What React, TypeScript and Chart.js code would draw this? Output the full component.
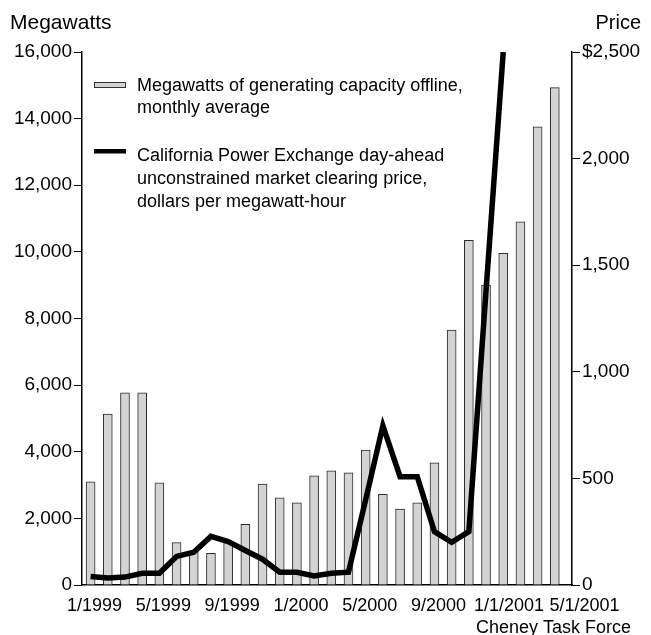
import React, { useEffect, useRef } from "react";
import { Chart, registerables } from "chart.js";

Chart.register(...registerables);

// Monthly data, 1/1999 .. 4/2001
const months = [
  "1/1999", "2/1999", "3/1999", "4/1999", "5/1999", "6/1999", "7/1999", "8/1999", "9/1999", "10/1999", "11/1999", "12/1999",
  "1/2000", "2/2000", "3/2000", "4/2000", "5/2000", "6/2000", "7/2000", "8/2000", "9/2000", "10/2000", "11/2000", "12/2000",
  "1/2001", "2/2001", "3/2001", "4/2001",
];
const megawattsOffline = [
  3100, 5130, 5770, 5770, 3070, 1270, 1000, 950, 1300, 1820, 3030, 2620,
  2470, 3280, 3430, 3370, 4050, 2720, 2280, 2470, 3670, 7650, 10350, 9000,
  9960, 10900, 13750, 14930,
];
const priceSeries = [
  40, 33, 37, 55, 55, 134, 154, 228, 204, 162, 121, 60,
  60, 42, 55, 60, 400, 747, 508, 508, 250, 200, 250, 1380,
  2500,
];
const xTickLabels = ["1/1999", "5/1999", "9/1999", "1/2000", "5/2000", "9/2000", "1/1/2001", "5/1/2001"];
const legendBarText = ["Megawatts of generating capacity offline,", "monthly average"];
const legendLineText = [
  "California Power Exchange day-ahead",
  "unconstrained market clearing price,",
  "dollars per megawatt-hour",
];
const leftTitle = "Megawatts";
const rightTitle = "Price";
const sourceText = "Cheney Task Force";

const FONT = "'Liberation Sans', Arial, Helvetica, sans-serif";
const W = 651;
const H = 635;
const AREA_LEFT = 82;
const AREA_RIGHT = 572;
const AREA_TOP = 52;
const AREA_BOTTOM = 585;

const overlayPlugin = {
  id: "overlay",
  afterDraw(chart: any) {
    const ctx = chart.ctx as CanvasRenderingContext2D;
    ctx.save();
    ctx.fillStyle = "#000";
    ctx.textBaseline = "alphabetic";
    // axis titles
    ctx.font = `21px ${FONT}`;
    ctx.textAlign = "left";
    ctx.fillText(leftTitle, 10, 29);
    ctx.font = `20px ${FONT}`;
    ctx.textAlign = "right";
    ctx.fillText(rightTitle, 641, 29);
    // source
    ctx.font = `18px ${FONT}`;
    ctx.textAlign = "right";
    ctx.fillText(sourceText, 631, 633);

    // legend
    ctx.fillStyle = "#d3d3d3";
    ctx.fillRect(94.5, 82.5, 31, 5);
    ctx.strokeStyle = "#333";
    ctx.lineWidth = 1;
    ctx.strokeRect(94.5, 82.5, 31, 5);
    ctx.fillStyle = "#000";
    ctx.fillRect(94, 149, 32, 4.5);

    ctx.font = `18px ${FONT}`;
    ctx.textAlign = "left";
    ctx.fillStyle = "#000";
    legendBarText.forEach((t, i) => ctx.fillText(t, 137, 91 + i * 22));
    legendLineText.forEach((t, i) => ctx.fillText(t, 137, 161 + i * 23));
    ctx.restore();
  },
};

export default function App() {
  const ref = useRef<HTMLCanvasElement | null>(null);

  useEffect(() => {
    const canvas = ref.current;
    if (!canvas) return;
    const chart = new Chart(canvas, {
      type: "bar",
      data: {
        datasets: [
          {
            type: "line",
            label: "price",
            data: priceSeries.map((v, i) => ({ x: i, y: v })),
            xAxisID: "x",
            yAxisID: "y1",
            borderColor: "#000",
            borderWidth: 5.5,
            pointRadius: 0,
            tension: 0,
            borderJoinStyle: "miter",
            borderCapStyle: "butt",
            order: 0,
          } as any,
          {
            type: "bar",
            label: "megawatts",
            data: megawattsOffline.map((v, i) => ({ x: i, y: v })),
            xAxisID: "x",
            yAxisID: "y",
            backgroundColor: "#d3d3d3",
            borderColor: "#2a2a2a",
            borderWidth: 1,
            barThickness: 9,
            order: 1,
          } as any,
        ],
      },
      options: {
        responsive: false,
        animation: false,
        devicePixelRatio: 1,
        layout: { padding: { top: AREA_TOP, left: 0, right: 0, bottom: 0 } },
        plugins: { legend: { display: false }, tooltip: { enabled: false } },
        scales: {
          x: {
            type: "linear",
            min: -0.5,
            max: 28,
            offset: false,
            grid: { display: false, drawTicks: false },
            border: { display: true, color: "#000", width: 1.5 },
            afterBuildTicks: (scale: any) => {
              // label anchors every 4 months; the last two labels sit a little right
              const nudge = [0, 0, 0, 0, 0, 0, 0.1, 0.5];
              scale.ticks = xTickLabels.map((_, i) => ({ value: i * 4 + nudge[i] }));
            },
            afterFit: (scale: any) => {
              scale.height = H - AREA_BOTTOM;
            },
            ticks: {
              autoSkip: false,
              maxRotation: 0,
              minRotation: 0,
              padding: 10,
              labelOffset: 4,
              color: "#000",
              font: { family: FONT, size: 18 },
              callback: (v: any) => xTickLabels[Math.round(Number(v) / 4)] ?? "",
            },
          },
          y: {
            type: "linear",
            position: "left",
            min: 0,
            max: 16000,
            grid: { drawOnChartArea: false, drawTicks: true, tickLength: 8, color: "#000", tickWidth: 1 },
            border: { display: true, color: "#000", width: 1.5 },
            afterFit: (scale: any) => {
              scale.width = AREA_LEFT;
            },
            ticks: {
              stepSize: 2000,
              padding: 2,
              color: "#000",
              font: { family: FONT, size: 19 },
              callback: (v: any) => Number(v).toLocaleString("en-US"),
            },
          },
          y1: {
            type: "linear",
            position: "right",
            min: 0,
            max: 2500,
            grid: { drawOnChartArea: false, drawTicks: true, tickLength: 8, color: "#000", tickWidth: 1 },
            border: { display: true, color: "#000", width: 1.5 },
            afterFit: (scale: any) => {
              scale.width = W - AREA_RIGHT;
            },
            ticks: {
              stepSize: 500,
              padding: 2,
              color: "#000",
              font: { family: FONT, size: 19 },
              callback: (v: any) =>
                Number(v) === 2500 ? "$2,500" : Number(v).toLocaleString("en-US"),
            },
          },
        },
      },
      plugins: [overlayPlugin],
    });
    return () => chart.destroy();
  }, []);

  return (
    <div style={{ position: "fixed", left: 0, top: 0, width: W, height: H, background: "#fff" }}>
      <canvas ref={ref} width={W} height={H} style={{ width: W, height: H, display: "block" }} />
    </div>
  );
}
